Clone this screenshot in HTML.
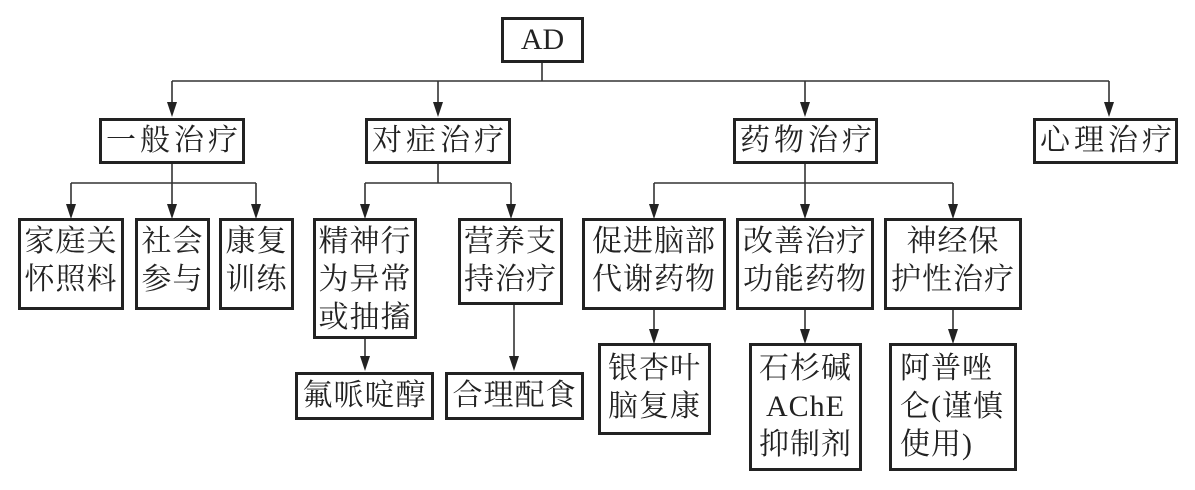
<!DOCTYPE html>
<html><head><meta charset="utf-8"><style>
body{margin:0;width:1195px;height:490px;background:#fff;position:relative;overflow:hidden;font-family:"Liberation Serif","Noto Serif CJK SC",serif;color:#222}
.b{position:absolute;box-sizing:border-box;border:3px solid #222;background:#fff;font-size:30px;line-height:38px;text-align:center;white-space:nowrap;letter-spacing:1px}
.l1{height:46px;top:118px;line-height:40px;letter-spacing:4px;text-indent:4px}
.t2{top:218px;padding-top:2px}
.bt{padding-top:4px}
svg{position:absolute;left:0;top:0}
</style></head><body>
<svg width="1195" height="490" viewBox="0 0 1195 490">
<g stroke="#333" stroke-width="1.6" fill="none">
<line x1="542" y1="62" x2="542" y2="81"/>
<line x1="172" y1="81" x2="1109" y2="81"/>
<line x1="172" y1="81" x2="172" y2="104"/>
<line x1="438" y1="81" x2="438" y2="104"/>
<line x1="805" y1="81" x2="805" y2="104"/>
<line x1="1109" y1="81" x2="1109" y2="104"/>
<line x1="172" y1="163" x2="172" y2="206"/>
<line x1="71" y1="183" x2="256" y2="183"/>
<line x1="71" y1="183" x2="71" y2="206"/>
<line x1="256" y1="183" x2="256" y2="206"/>
<line x1="438" y1="163" x2="438" y2="183"/>
<line x1="365" y1="183" x2="511" y2="183"/>
<line x1="365" y1="183" x2="365" y2="206"/>
<line x1="511" y1="183" x2="511" y2="206"/>
<line x1="805" y1="163" x2="805" y2="206"/>
<line x1="654" y1="183" x2="953" y2="183"/>
<line x1="654" y1="183" x2="654" y2="206"/>
<line x1="953" y1="183" x2="953" y2="206"/>
<line x1="365" y1="338" x2="365" y2="358"/>
<line x1="514" y1="304" x2="514" y2="358"/>
<line x1="654" y1="309" x2="654" y2="331"/>
<line x1="805" y1="309" x2="805" y2="331"/>
<line x1="953" y1="309" x2="953" y2="331"/>
</g>
<g fill="#222">
<path d="M167,102 h10 l-5,15z"/><path d="M433,102 h10 l-5,15z"/><path d="M800,102 h10 l-5,15z"/><path d="M1104,102 h10 l-5,15z"/>
<path d="M66,204 h10 l-5,15z"/><path d="M167,204 h10 l-5,15z"/><path d="M251,204 h10 l-5,15z"/>
<path d="M360,204 h10 l-5,15z"/><path d="M506,204 h10 l-5,15z"/>
<path d="M649,204 h10 l-5,15z"/><path d="M800,204 h10 l-5,15z"/><path d="M948,204 h10 l-5,15z"/>
<path d="M360,356 h10 l-5,15z"/><path d="M509,356 h10 l-5,15z"/>
<path d="M649,329 h10 l-5,15z"/><path d="M800,329 h10 l-5,15z"/><path d="M948,329 h10 l-5,15z"/>
</g>
</svg>
<div class="b" style="left:501px;top:17px;width:83px;height:46px;line-height:40px;font-size:30px;letter-spacing:0">AD</div>
<div class="b l1" style="left:99px;width:146px">一般治疗</div>
<div class="b l1" style="left:365px;width:146px">对症治疗</div>
<div class="b l1" style="left:733px;width:145px">药物治疗</div>
<div class="b l1" style="left:1033px;width:145px">心理治疗</div>
<div class="b t2" style="left:18px;width:106px;height:92px">家庭关<br>怀照料</div>
<div class="b t2" style="left:135px;width:75px;height:92px">社会<br>参与</div>
<div class="b t2" style="left:219px;width:75px;height:92px">康复<br>训练</div>
<div class="b t2" style="left:313px;width:104px;height:121px">精神行<br>为异常<br>或抽搐</div>
<div class="b t2" style="left:458px;width:105px;height:87px">营养支<br>持治疗</div>
<div class="b t2" style="left:582px;width:144px;height:92px">促进脑部<br>代谢药物</div>
<div class="b t2" style="left:736px;width:138px;height:92px">改善治疗<br>功能药物</div>
<div class="b t2" style="left:884px;width:138px;height:92px">神经保<br>护性治疗</div>
<div class="b" style="left:295px;top:372px;width:139px;height:48px;line-height:42px">氟哌啶醇</div>
<div class="b" style="left:445px;top:372px;width:139px;height:48px;line-height:42px">合理配食</div>
<div class="b bt" style="left:598px;top:343px;width:113px;height:92px">银杏叶<br>脑复康</div>
<div class="b bt" style="left:749px;top:343px;width:113px;height:128px">石杉碱<br>AChE<br>抑制剂</div>
<div class="b bt" style="left:889px;top:343px;width:128px;height:128px;text-align:left;padding-left:8px">阿普唑<br>仑(谨慎<br>使用)</div>
</body></html>
